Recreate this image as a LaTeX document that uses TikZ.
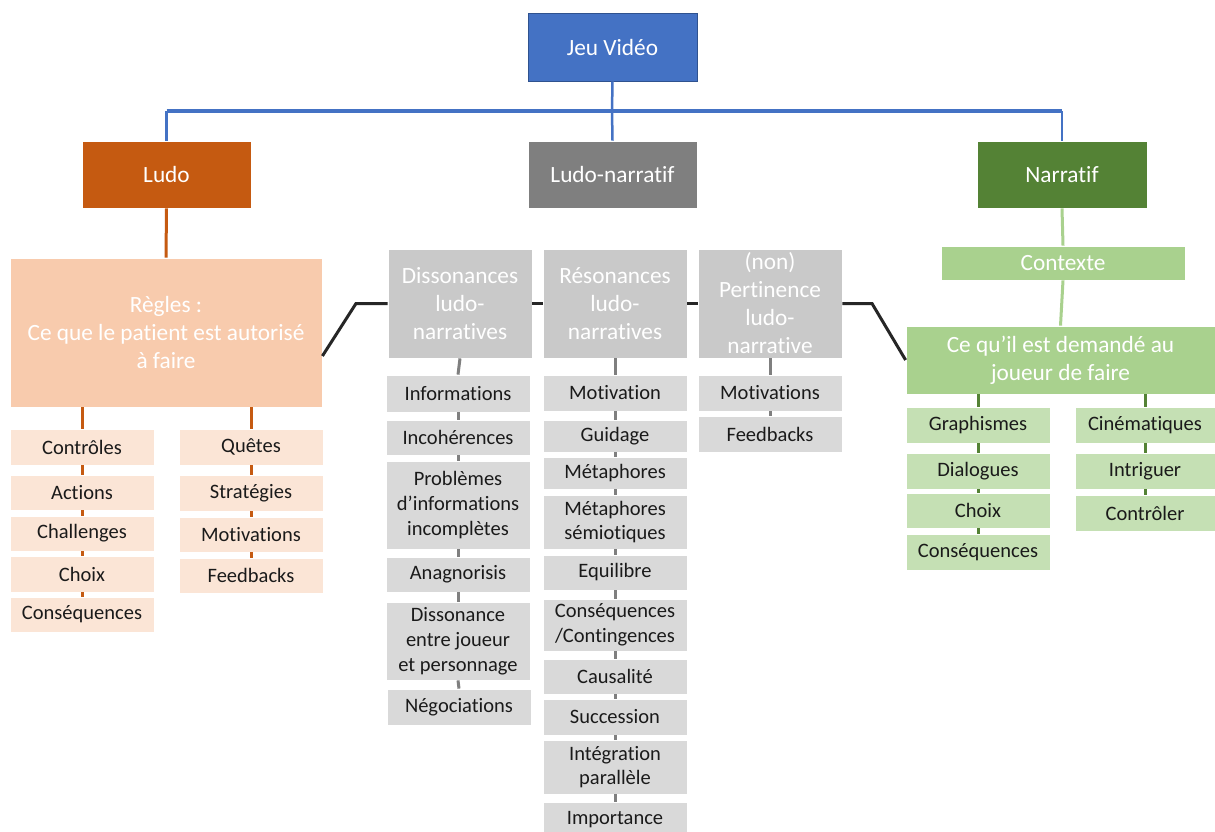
\documentclass[tikz,border=0pt]{standalone}
\usepackage{fontspec}
\setmainfont{Carlito}[Ligatures={NoCommon}]
\definecolor{jeublue}{HTML}{4472C4}
\definecolor{jeuborder}{HTML}{2F528F}
\definecolor{ludoor}{HTML}{C55A11}
\definecolor{reglesor}{HTML}{F8CBAD}
\definecolor{itemor}{HTML}{FBE5D6}
\definecolor{lngray}{HTML}{7F7F7F}
\definecolor{hdgray}{HTML}{C9C9C9}
\definecolor{itgray}{HTML}{D9D9D9}
\definecolor{narrgreen}{HTML}{548235}
\definecolor{lightgreen}{HTML}{A9D18E}
\definecolor{itgreen}{HTML}{C5E0B4}
\definecolor{blackline}{HTML}{262626}
\definecolor{itemtext}{HTML}{1A1A1A}
\newcommand\mkbox[7]{%
  \node[#2, minimum width={(#5-#3)*1pt}, minimum height={(#6-#4)*1pt}] (#1) at ({(#3+#5)/2},{(#4+#6)/2}) {#7};}
\tikzset{
  basebox/.style={rectangle, inner sep=0pt, align=center, draw=white, line width=0.8pt},
  topbox/.style={basebox, text=white, font=\fontsize{23.3}{28}\selectfont},
  itembox/.style={basebox, text=itemtext, font=\fontsize{20.5}{24.8}\selectfont},
  bluec/.style={draw=jeublue, line width=2.5pt},
  orc/.style={draw=ludoor, line width=3pt},
  grc/.style={draw=lngray, line width=3pt},
  lgc/.style={draw=lightgreen, line width=3pt},
  dgc/.style={draw=narrgreen, line width=3pt},
  blk/.style={draw=blackline, line width=3pt}
}
\begin{document}
\begin{tikzpicture}[x=1pt,y=-1pt]
\useasboundingbox (0,0) rectangle (1215,832);
\fill[white] (0,0) rectangle (1215,832);
% top level
\mkbox{jeu}{topbox, fill=jeublue, draw=jeuborder}{528}{13}{697}{81}{Jeu Vidéo}
\mkbox{ludo}{topbox, fill=ludoor}{82}{141}{251}{208}{Ludo}
\mkbox{ln}{topbox, fill=lngray}{528}{141}{697}{208}{Ludo-narratif}
\mkbox{narr}{topbox, fill=narrgreen}{977}{141}{1147}{208}{Narratif}
\coordinate (hub) at (612,111);
\draw[bluec] (jeu.south) -- (hub);
\draw[bluec, line width=3.5pt] (ludo.north |- hub) -- (narr.north |- hub);
\draw[bluec] (ludo.north) -- (ludo.north |- hub);
\draw[bluec] (ln.north) -- (hub);
\draw[bluec] (narr.north) -- (narr.north |- hub);
% Ludo branch
\mkbox{regles}{topbox, fill=reglesor}{10}{258}{322}{407}{Règles :\\Ce que le patient est autorisé\\à faire}
\draw[orc] (ludo.south) -- (regles.north);
\mkbox{lc1}{itembox, fill=itemor}{10}{429}{154}{465}{Contrôles}
\mkbox{lc2}{itembox, fill=itemor}{10}{475}{154}{510}{Actions}
\mkbox{lc3}{itembox, fill=itemor}{10}{516}{154}{551}{Challenges}
\mkbox{lc4}{itembox, fill=itemor}{10}{556}{154}{592}{Choix}
\mkbox{lc5}{itembox, fill=itemor}{10}{597}{154}{632}{Conséquences}
\mkbox{rc1}{itembox, fill=itemor}{179}{429}{323}{465}{Quêtes}
\mkbox{rc2}{itembox, fill=itemor}{179}{475}{323}{511}{Stratégies}
\mkbox{rc3}{itembox, fill=itemor}{179}{517}{323}{552}{Motivations}
\mkbox{rc4}{itembox, fill=itemor}{179}{558}{323}{593}{Feedbacks}
\draw[orc] (regles.south -| lc1.north) -- (lc1.north);
\draw[orc] (regles.south -| rc1.north) -- (rc1.north);
\foreach \a/\b in {lc1/lc2,lc2/lc3,lc3/lc4,lc4/lc5,rc1/rc2,rc2/rc3,rc3/rc4}
  \draw[orc] (\a.south) -- (\b.north);
% Ludo-narratif branch
\mkbox{dis}{topbox, fill=hdgray}{388}{249}{532}{358}{Dissonances\\ludo-\\narratives}
\mkbox{res}{topbox, fill=hdgray}{543}{249}{687}{358}{Résonances\\ludo-\\narratives}
\mkbox{per}{topbox, fill=hdgray}{698}{249}{842}{358}{(non)\\Pertinence\\ludo-\\narrative}
\mkbox{d1}{itembox, fill=itgray}{386}{375}{530}{412}{Informations}
\mkbox{d2}{itembox, fill=itgray}{386}{420}{530}{455}{Incohérences}
\mkbox{d3}{itembox, fill=itgray}{386}{461}{530}{549}{Problèmes\\d’informations\\incomplètes}
\mkbox{d4}{itembox, fill=itgray}{386}{557}{530}{592}{Anagnorisis}
\mkbox{d5}{itembox, fill=itgray}{386}{602}{530}{680}{Dissonance\\entre joueur\\et personnage}
\mkbox{d6}{itembox, fill=itgray}{387}{689}{531}{725}{Négociations}
\mkbox{r1}{itembox, fill=itgray}{543}{375}{687}{411}{Motivation}
\mkbox{r2}{itembox, fill=itgray}{543}{420}{687}{452}{Guidage}
\mkbox{r3}{itembox, fill=itgray}{543}{457}{687}{489}{Métaphores}
\mkbox{r4}{itembox, fill=itgray}{543}{495}{687}{549}{Métaphores\\sémiotiques}
\mkbox{r5}{itembox, fill=itgray}{543}{555}{687}{590}{Equilibre}
\mkbox{r6}{itembox, fill=itgray}{543}{599}{687}{651}{Conséquences\\/Contingences}
\mkbox{r7}{itembox, fill=itgray}{543}{659}{687}{694}{Causalité}
\mkbox{r8}{itembox, fill=itgray}{543}{699}{687}{735}{Succession}
\mkbox{r9}{itembox, fill=itgray}{543}{740}{687}{794}{Intégration\\parallèle}
\mkbox{r10}{itembox, fill=itgray}{543}{802}{687}{838}{Importance}
\mkbox{p1}{itembox, fill=itgray}{698}{375}{842}{411}{Motivations}
\mkbox{p2}{itembox, fill=itgray}{698}{416}{842}{452}{Feedbacks}
\foreach \a/\b in {dis/d1,d1/d2,d2/d3,d3/d4,d4/d5,d5/d6,res/r1,r1/r2,r2/r3,r3/r4,r4/r5,r5/r6,r6/r7,r7/r8,r8/r9,r9/r10,per/p1,p1/p2}
  \draw[grc] (\a.south) -- (\b.north);
% Narratif branch
\mkbox{ctx}{topbox, fill=lightgreen}{941}{246}{1185}{280}{Contexte}
\mkbox{ced}{topbox, fill=lightgreen}{906}{326}{1215}{394}{Ce qu’il est demandé au\\joueur de faire}
\draw[lgc] (narr.south) -- (ctx.north);
\draw[lgc] (ctx.south) -- (ced.north);
\mkbox{g1}{itembox, fill=itgreen}{906}{407}{1050}{443}{Graphismes}
\mkbox{g2}{itembox, fill=itgreen}{906}{453}{1050}{489}{Dialogues}
\mkbox{g3}{itembox, fill=itgreen}{906}{493}{1050}{528}{Choix}
\mkbox{g4}{itembox, fill=itgreen}{906}{534}{1050}{570}{Conséquences}
\mkbox{h1}{itembox, fill=itgreen}{1075}{407}{1215}{443}{Cinématiques}
\mkbox{h2}{itembox, fill=itgreen}{1075}{453}{1215}{489}{Intriguer}
\mkbox{h3}{itembox, fill=itgreen}{1075}{495}{1215}{531}{Contrôler}
\draw[dgc] (ced.south -| g1.north) -- (g1.north);
\draw[dgc] (ced.south -| h1.north) -- (h1.north);
\foreach \a/\b in {g1/g2,g2/g3,g3/g4,h1/h2,h2/h3}
  \draw[dgc] (\a.south) -- (\b.north);
% black cross links
\coordinate (k1) at (356,303.5);
\coordinate (k2) at (872,303.5);
\draw[blk] ([yshift=-23.5pt]regles.east) -- (k1) -- (dis.west);
\draw[blk] (dis.east) -- (res.west);
\draw[blk] (res.east) -- (per.west);
\draw[blk] (per.east) -- (k2) -- (ced.west);
\end{tikzpicture}
\end{document}
